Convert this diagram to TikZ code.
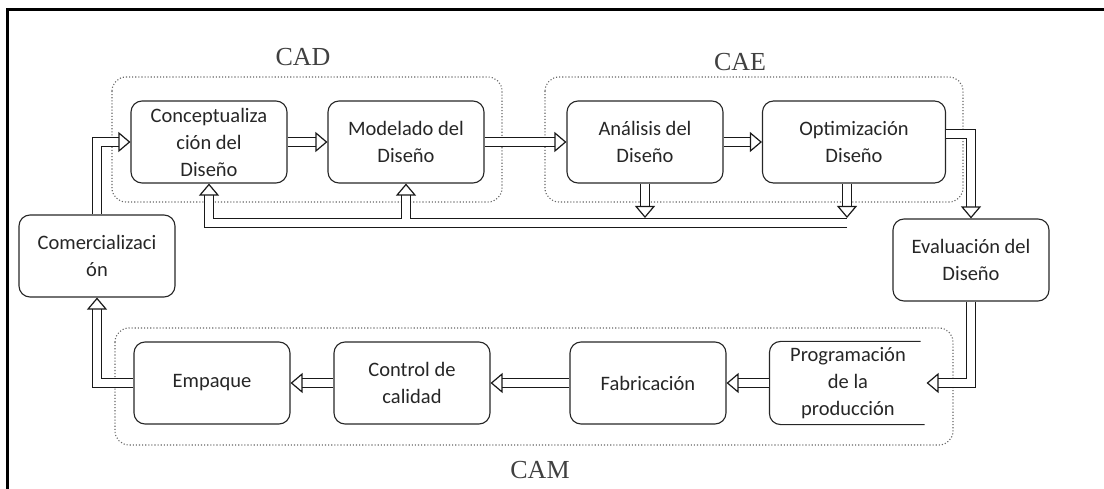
\documentclass[tikz,border=0pt]{standalone}
\usepackage{fontspec}
\setmainfont{Carlito}
\newfontfamily\labelfont{Liberation Serif}
\usetikzlibrary{arrows.meta}

\begin{document}
\begin{tikzpicture}[x=1pt, y=-1pt,
  box/.style={draw=black!85, rounded corners=11pt, line width=1.1pt, minimum width=156pt, minimum height=82pt, align=center, inner sep=1pt, font=\fontsize{20.5}{27}\selectfont, text=black!85},
  pipe/.style={draw=black!90, line width=1.2pt, double=white, double distance=7.5pt, -{Triangle[open, length=12pt, width=20pt, line width=1.2pt]}},
  group/.style={draw=black!60, dotted, line width=1.1pt, rounded corners=14pt},
  tag/.style={font=\labelfont\fontsize{26}{26}\selectfont, text=black!75}]
\useasboundingbox (0,0) rectangle (1104,489);
\draw[line width=3pt] (7,495) -- (7,10) -- (1110,10);
% groups
\draw[group] (112,77) rectangle (502,202);
\draw[group] (545,77) rectangle (963,202);
\draw[group] (115,328) rectangle (953,445);
\node[tag] (cad) at (303,57) {CAD};
\node[tag] (cae) at (740,62) {CAE};
\node[tag] (cam) at (540,470) {CAM};
% boxes
\node[box] (1) at (209,142) {Conceptualiza\\ción del\\Diseño};
\node[box] (2) at (406,142) {Modelado del\\Diseño};
\node[box] (3) at (645,142) {Análisis del\\Diseño};
\node[box, minimum width=183pt] (4) at (854,142) {Optimización\\Diseño};
\node[box] (5) at (971,260) {Evaluación del\\Diseño};
\node[box, draw=none] (6) at (848,383) {Programación\\de la\\producción};
\node[box] (7) at (648,383) {Fabricación};
\node[box] (8) at (412,383) {Control de\\calidad};
\node[box] (9) at (212,383) {Empaque};
\node[box] (10) at (97,256) {Comercializaci\\ón};
\draw[draw=black!85, line width=1.1pt, rounded corners=11pt] ([xshift=-6pt]6.north east) -| (6.west) |- ([xshift=-2pt]6.south east);
% connectors
\coordinate (fb) at (847,223);
\path[pipe] (fb) -| (1.south);
\path[pipe] ([yshift=4pt]2.south |- fb) -- (2.south);
\path[pipe] (3.south) -- ([yshift=5pt]3.south |- fb);
\path[pipe] (fb |- 4.south) -- ([yshift=5pt]fb);
\path[pipe] (10.north) |- (1.west);
\path[pipe] (1) -- (2);
\path[pipe] (2) -- (3);
\path[pipe] (3) -- (4);
\path[pipe] ([yshift=8pt]4.east) -| (5.north);
\path[pipe] (5.south) |- (6.east);
\path[pipe] (6) -- (7);
\path[pipe] (7) -- (8);
\path[pipe] (8) -- (9);
\path[pipe] (9.west) -| (10.south);
\end{tikzpicture}
\end{document}
